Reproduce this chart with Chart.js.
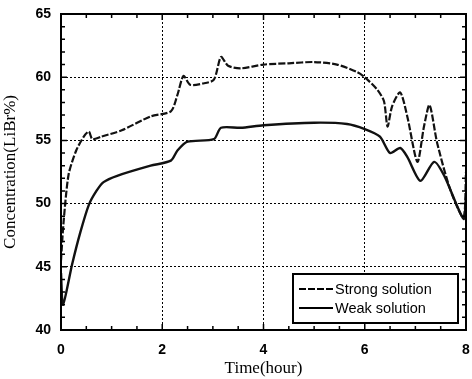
<!DOCTYPE html>
<html>
<head>
<meta charset="utf-8">
<script src="https://cdn.jsdelivr.net/npm/chart.js@4/dist/chart.umd.min.js"></script>
<style>
  html, body { margin: 0; padding: 0; background: #fff; }
  #wrap { width: 472px; height: 379px; }
</style>
</head>
<body>
<div id="wrap"><canvas id="chart" width="472" height="379"></canvas></div>
<script>
// values
const strongTime = [0, 0.05, 0.15, 0.3, 0.45, 0.55, 0.62, 0.8, 1.2, 1.77, 2.17, 2.3, 2.42, 2.55, 2.8, 3.02, 3.16, 3.3, 3.55, 4.0, 4.5, 5.0, 5.45, 5.85, 6.0, 6.25, 6.38, 6.45, 6.54, 6.7, 6.84, 7.04, 7.17, 7.28, 7.43, 7.69, 7.95, 8.0];
const strongConc = [45.5, 48.5, 52.3, 54.2, 55.3, 55.7, 55.1, 55.3, 55.8, 56.9, 57.3, 58.6, 60.1, 59.4, 59.5, 59.8, 61.6, 60.9, 60.7, 61.0, 61.1, 61.2, 61.0, 60.4, 60.0, 59.0, 58.1, 56.1, 57.7, 58.8, 56.9, 53.3, 56.1, 57.8, 54.8, 51.1, 48.9, 52.5];
const weakTime = [0, 0.04, 0.22, 0.38, 0.55, 0.7, 0.84, 1.11, 1.77, 2.17, 2.3, 2.5, 3.02, 3.16, 3.55, 4.0, 5.0, 5.65, 6.0, 6.3, 6.5, 6.7, 6.84, 7.1, 7.37, 7.57, 7.95, 8.0];
const weakConc = [44.5, 42.0, 45.2, 47.7, 49.9, 51.0, 51.7, 52.2, 53.0, 53.4, 54.2, 54.9, 55.1, 56.0, 56.0, 56.2, 56.4, 56.3, 55.9, 55.3, 54.0, 54.4, 53.7, 51.8, 53.3, 52.2, 48.8, 50.5];
const xTicks = [0, 2, 4, 6, 8];
const yTicks = [40, 45, 50, 55, 60, 65];
const seriesNames = ['Strong solution', 'Weak solution'];

const toPoints = (xs, ys) => xs.map((x, i) => ({ x: x, y: ys[i] }));

// inward ticks on all four sides and the legend box
const framePlugin = {
  id: 'frame',
  afterDraw(chart) {
    const ctx = chart.ctx;
    const a = chart.chartArea;
    const xs = chart.scales.x, ys = chart.scales.y;
    ctx.save();
    ctx.strokeStyle = '#000';
    ctx.lineWidth = 1.5;
    ctx.beginPath();
    for (let v = 0; v <= 8.001; v += 0.5) {
      const px = xs.getPixelForValue(v);
      const len = (v % 2 === 0) ? 6 : 4;
      ctx.moveTo(px, a.bottom); ctx.lineTo(px, a.bottom - len);
      ctx.moveTo(px, a.top); ctx.lineTo(px, a.top + len);
    }
    for (let v = 40; v <= 65; v += 1) {
      const py = ys.getPixelForValue(v);
      const len = (v % 5 === 0) ? 6 : 4;
      ctx.moveTo(a.left, py); ctx.lineTo(a.left + len, py);
      ctx.moveTo(a.right, py); ctx.lineTo(a.right - len, py);
    }
    ctx.stroke();
    ctx.lineWidth = 2;
    ctx.strokeRect(a.left, a.top, a.right - a.left, a.bottom - a.top);

    // legend
    const bx = 293, by = 274, bw = 165, bh = 49;
    ctx.fillStyle = '#fff';
    ctx.fillRect(bx, by, bw, bh);
    ctx.lineWidth = 2;
    ctx.strokeRect(bx, by, bw, bh);
    ctx.font = '14.5px "Liberation Sans", Arial, sans-serif';
    ctx.fillStyle = '#000';
    ctx.textBaseline = 'middle';
    chart.data.datasets.forEach((ds, i) => {
      const ly = by + 15 + i * 19;
      ctx.beginPath();
      ctx.lineWidth = 2;
      ctx.setLineDash(ds.borderDash || []);
      ctx.moveTo(bx + 6, ly); ctx.lineTo(bx + 40, ly);
      ctx.stroke();
      ctx.setLineDash([]);
      ctx.fillText(ds.label, bx + 42, ly + 1);
    });
    ctx.restore();
  }
};

new Chart(document.getElementById('chart'), {
  type: 'line',
  data: {
    datasets: [
      {
        label: seriesNames[0],
        data: toPoints(strongTime, strongConc),
        borderColor: '#111',
        borderWidth: 2.2,
        borderDash: [7, 2],
        pointRadius: 0,
        tension: 0.25,
        fill: false
      },
      {
        label: seriesNames[1],
        data: toPoints(weakTime, weakConc),
        borderColor: '#111',
        borderWidth: 2.4,
        pointRadius: 0,
        tension: 0.25,
        fill: false
      }
    ]
  },
  options: {
    responsive: false,
    animation: false,
    layout: { padding: { top: 14, right: 6, left: 0, bottom: 0 } },
    plugins: {
      legend: { display: false },
      tooltip: { enabled: false }
    },
    scales: {
      x: {
        type: 'linear',
        min: 0,
        max: 8,
        afterBuildTicks: (s) => { s.ticks = xTicks.map(v => ({ value: v })); },
        afterFit: (s) => { s.height = 49; s.paddingLeft = 0; s.paddingRight = 0; },
        grid: { color: '#000', lineWidth: 1, drawTicks: false },
        border: { display: true, color: '#000', width: 2, dash: [2, 2] },
        ticks: {
          color: '#000',
          padding: 12,
          font: { family: '"Liberation Sans", Arial, sans-serif', size: 14, weight: 'bold' }
        },
        title: {
          display: true,
          text: 'Time(hour)',
          color: '#000',
          padding: { top: 0, bottom: 0 },
          font: { family: '"Liberation Serif", "Times New Roman", serif', size: 17 }
        }
      },
      y: {
        min: 40,
        max: 65,
        afterBuildTicks: (s) => { s.ticks = yTicks.map(v => ({ value: v })); },
        afterFit: (s) => { s.width = 61; s.paddingTop = 0; s.paddingBottom = 0; },
        grid: { color: '#000', lineWidth: 1, drawTicks: false },
        border: { display: true, color: '#000', width: 2, dash: [2, 2] },
        ticks: {
          color: '#000',
          padding: 10,
          font: { family: '"Liberation Sans", Arial, sans-serif', size: 14, weight: 'bold' }
        },
        title: {
          display: true,
          text: 'Concentration(LiBr%)',
          color: '#000',
          padding: { top: 0, bottom: 2 },
          font: { family: '"Liberation Serif", "Times New Roman", serif', size: 17 }
        }
      }
    }
  },
  plugins: [framePlugin]
});
</script>
</body>
</html>
